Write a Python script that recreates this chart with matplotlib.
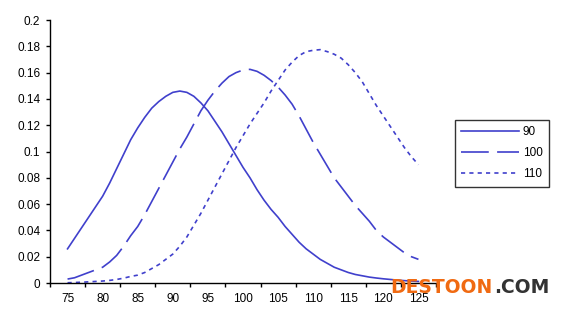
import matplotlib
matplotlib.use("Agg")
import matplotlib.pyplot as plt

plt.rcParams['font.family'] = ['Liberation Sans', 'DejaVu Sans']
plt.rcParams['lines.scale_dashes'] = False

x = list(range(75, 126))

# values, one per unit
s90 = [0.026, 0.034, 0.042, 0.050, 0.058, 0.066, 0.076, 0.087, 0.098, 0.109,
       0.118, 0.126, 0.133, 0.138, 0.142, 0.145, 0.146, 0.145, 0.142, 0.137,
       0.131, 0.123, 0.115, 0.106, 0.097, 0.088, 0.080, 0.071, 0.063, 0.056,
       0.050, 0.043, 0.037, 0.031, 0.026, 0.022, 0.018, 0.015, 0.012, 0.010,
       0.008, 0.0065, 0.0055, 0.0045, 0.0038, 0.0032, 0.0027, 0.0022, 0.0018, 0.0015,
       0.0012]
s100 = [0.003, 0.004, 0.006, 0.008, 0.010, 0.012, 0.016, 0.021, 0.028, 0.036,
        0.043, 0.052, 0.062, 0.072, 0.082, 0.092, 0.102, 0.111, 0.121, 0.131,
        0.139, 0.146, 0.152, 0.157, 0.160, 0.162, 0.1625, 0.161, 0.158, 0.154,
        0.149, 0.143, 0.136, 0.127, 0.117, 0.107, 0.098, 0.089, 0.080, 0.073,
        0.066, 0.059, 0.053, 0.047, 0.040, 0.035, 0.031, 0.027, 0.023, 0.020,
        0.018]
s110 = [0.0002, 0.0004, 0.0006, 0.0009, 0.0012, 0.0015, 0.002, 0.0027, 0.0037, 0.005,
        0.006, 0.008, 0.011, 0.014, 0.018, 0.022, 0.028, 0.035, 0.044, 0.053,
        0.063, 0.073, 0.083, 0.093, 0.103, 0.112, 0.121, 0.129, 0.137, 0.146,
        0.154, 0.162, 0.168, 0.173, 0.176, 0.177, 0.1775, 0.176, 0.174, 0.171,
        0.166, 0.160, 0.153, 0.144, 0.135, 0.127, 0.119, 0.111, 0.103, 0.096,
        0.090]

xticklabels = [75, 80, 85, 90, 95, 100, 105, 110, 115, 120, 125]
yticks = [0, 0.02, 0.04, 0.06, 0.08, 0.1, 0.12, 0.14, 0.16, 0.18, 0.2]

blue = "#4040cc"

fig = plt.figure(figsize=(5.63, 3.09), dpi=100)
ax = fig.add_axes([0.0888, 0.0841, 0.6856, 0.851])

ax.plot(x, s90, color=blue, lw=1.2, label="90")
ax.plot(x, s100, color=blue, lw=1.2, dashes=(20, 6), label="100")
ax.plot(x, s110, color=blue, lw=1.2, dashes=(3, 3), label="110")

ax.set_xlim(72.5, 127.5)
ax.set_ylim(0, 0.2)
ax.set_yticks(yticks)
ax.set_yticklabels([("%g" % v) for v in yticks])
ax.set_xticks([v - 2.5 for v in xticklabels] + [127.5])
ax.set_xticklabels([])
ax.set_xticks(xticklabels, minor=True)
ax.set_xticklabels([str(v) for v in xticklabels], minor=True)
ax.tick_params(axis='x', which='minor', length=0, pad=7, labelsize=8.5)
ax.tick_params(axis='x', which='major', length=3, width=1, direction='out')
ax.tick_params(axis='y', length=3, width=1, direction='out', labelsize=8.5, pad=4)

for s in ['top', 'right']:
    ax.spines[s].set_visible(False)
for s in ['left', 'bottom']:
    ax.spines[s].set_linewidth(1)
    ax.spines[s].set_color('black')

leg = ax.legend(loc='upper left', bbox_to_anchor=(455 / 563, 1 - 120 / 309),
                bbox_transform=fig.transFigure, fontsize=8.5, frameon=True,
                fancybox=False, edgecolor='black', handlelength=4.9,
                handletextpad=0.3, borderpad=0.55, labelspacing=0.75,
                borderaxespad=0)
leg.get_frame().set_linewidth(1)

fig.text(390 / 563, 0.051, "DESTOON", color="#f06a12", fontsize=13.5,
         fontweight='bold', family='DejaVu Sans', ha='left', va='baseline', zorder=10)
fig.text(549 / 563, 0.051, ".COM", color="#333333", fontsize=13.5,
         fontweight='bold', family='DejaVu Sans', ha='right', va='baseline', zorder=10)

fig.savefig("out.png", dpi=100)
